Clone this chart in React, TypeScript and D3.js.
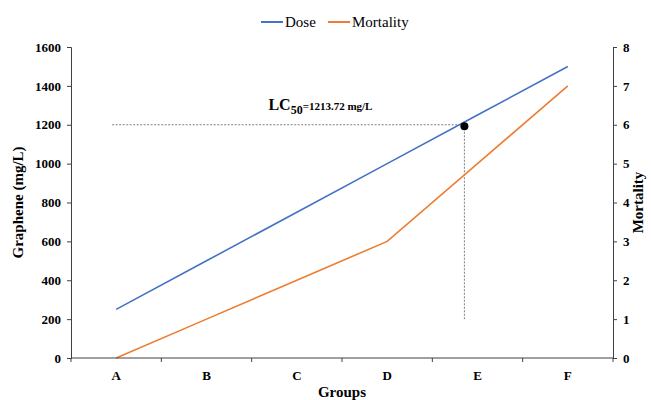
import { useEffect, useRef } from "react";
import * as d3 from "d3";

const groups = ["A", "B", "C", "D", "E", "F"];
const dose = [250, 500, 750, 1000, 1250, 1500];
const mortality = [0, 1, 2, 3, 5, 7];
const leftTicks = [0, 200, 400, 600, 800, 1000, 1200, 1400, 1600];
const rightTicks = [0, 1, 2, 3, 4, 5, 6, 7, 8];
const lc50 = 1213.72;
const lc50Line = 1200;
const lc50Floor = 200;

const W = 651;
const H = 400;

const App = () => {
  const svgRef = useRef<SVGSVGElement>(null);

  useEffect(() => {
    const svg = d3.select(svgRef.current);
    svg.selectAll("*").remove();

    const margin = { top: 47, right: 38, bottom: 42, left: 71 };
    const width = W - margin.left - margin.right;
    const height = H - margin.top - margin.bottom;
    const font = "'Liberation Serif', 'Times New Roman', serif";
    const axisColor = "#404040";
    const blue = "#4472C4";
    const orange = "#ED7D31";

    const x = d3.scaleBand().domain(groups).range([0, width]);
    const cx = (g: string) => (x(g) as number) + x.bandwidth() / 2;
    const yL = d3.scaleLinear().domain([0, 1600]).range([height, 0]);
    const yR = d3.scaleLinear().domain([0, 8]).range([height, 0]);

    const g = svg.append("g").attr("transform", `translate(${margin.left},${margin.top})`);

    // dashed LC50 guides
    const lcIdx = (lc50 - dose[0]) / (dose[1] - dose[0]);
    const lcX = cx(groups[0]) + lcIdx * x.step();
    g.append("line")
      .attr("x1", cx(groups[0]) - 4)
      .attr("x2", lcX)
      .attr("y1", yL(lc50Line))
      .attr("y2", yL(lc50Line))
      .attr("stroke", "#7f7f7f")
      .attr("stroke-width", 1)
      .attr("stroke-dasharray", "2,1.5");
    g.append("line")
      .attr("x1", lcX)
      .attr("x2", lcX)
      .attr("y1", yL(lc50Line))
      .attr("y2", yL(lc50Floor))
      .attr("stroke", "#7f7f7f")
      .attr("stroke-width", 1)
      .attr("stroke-dasharray", "2,1.5");

    const doseLine = d3
      .line<number>()
      .x((_, i) => cx(groups[i]))
      .y((d) => yL(d));
    const mortLine = d3
      .line<number>()
      .x((_, i) => cx(groups[i]))
      .y((d) => yR(d));

    g.append("path").datum(dose).attr("fill", "none").attr("stroke", blue).attr("stroke-width", 1.6).attr("d", doseLine);
    g.append("path").datum(mortality).attr("fill", "none").attr("stroke", orange).attr("stroke-width", 1.6).attr("d", mortLine);

    g.append("circle")
      .attr("cx", lcX)
      .attr("cy", yL(lc50Line) + 1.5)
      .attr("r", 4)
      .attr("fill", "#000");

    // LC50 label
    const lbl = g
      .append("text")
      .attr("x", lcX - 196)
      .attr("y", yL(lc50Line) - 15)
      .attr("font-family", font)
      .attr("font-weight", "bold")
      .attr("fill", "#000");
    lbl.append("tspan").attr("font-size", 16).text("LC");
    lbl.append("tspan").attr("font-size", 12).attr("dy", 4).text("50");
    lbl.append("tspan").attr("font-size", 11).attr("dy", -4).text("=1213.72 mg/L");

    // axes
    const styleAxis = (sel: any) => {
      sel.select(".domain").attr("stroke", axisColor);
      sel.selectAll(".tick line").attr("stroke", axisColor);
      sel
        .selectAll("text")
        .attr("font-family", font)
        .attr("font-weight", "bold")
        .attr("font-size", 13)
        .attr("fill", "#000");
    };

    g.append("g")
      .call(d3.axisLeft(yL).tickValues(leftTicks).tickFormat(d3.format("d")).tickSize(4).tickSizeOuter(4).tickPadding(6))
      .call(styleAxis);

    g.append("g")
      .attr("transform", `translate(${width},0)`)
      .call(d3.axisRight(yR).tickValues(rightTicks).tickFormat(d3.format("d")).tickSize(4).tickSizeOuter(4).tickPadding(6))
      .call(styleAxis);

    const bx = g.append("g").attr("transform", `translate(0,${height})`);
    bx.append("line").attr("x1", 0).attr("x2", width).attr("stroke", axisColor);
    bx.selectAll("line.tk")
      .data(d3.range(groups.length + 1))
      .enter()
      .append("line")
      .attr("class", "tk")
      .attr("x1", (i) => i * x.step())
      .attr("x2", (i) => i * x.step())
      .attr("y1", 0)
      .attr("y2", 4)
      .attr("stroke", axisColor);
    bx.selectAll("text")
      .data(groups)
      .enter()
      .append("text")
      .attr("x", (d) => cx(d))
      .attr("y", 22)
      .attr("text-anchor", "middle")
      .attr("font-family", font)
      .attr("font-weight", "bold")
      .attr("font-size", 13)
      .text((d) => d);

    // axis titles
    svg.append("text")
      .attr("transform", `translate(23,${margin.top + height / 2}) rotate(-90)`)
      .attr("text-anchor", "middle")
      .attr("font-family", font)
      .attr("font-weight", "bold")
      .attr("font-size", 15)
      .text("Graphene (mg/L)");
    svg.append("text")
      .attr("transform", `translate(643,${margin.top + height / 2}) rotate(-90)`)
      .attr("text-anchor", "middle")
      .attr("font-family", font)
      .attr("font-weight", "bold")
      .attr("font-size", 15)
      .text("Mortality");
    svg.append("text")
      .attr("x", margin.left + width / 2)
      .attr("y", 397)
      .attr("text-anchor", "middle")
      .attr("font-family", font)
      .attr("font-weight", "bold")
      .attr("font-size", 15)
      .text("Groups");

    // legend
    const legend = svg.append("g").attr("transform", "translate(261,22)");
    const items = [
      { name: "Dose", color: blue, off: 0 },
      { name: "Mortality", color: orange, off: 67 },
    ];
    items.forEach((it) => {
      legend.append("line")
        .attr("x1", it.off)
        .attr("x2", it.off + 22)
        .attr("stroke", it.color)
        .attr("stroke-width", 2);
      legend.append("text")
        .attr("x", it.off + 24)
        .attr("y", 5)
        .attr("font-family", font)
        .attr("font-size", 15)
        .text(it.name);
    });
  }, []);

  return (
    <div style={{ position: "absolute", left: 0, top: 0 }}>
      <svg ref={svgRef} width={W} height={H} style={{ display: "block", background: "#fff" }}></svg>
    </div>
  );
};

export default App;
